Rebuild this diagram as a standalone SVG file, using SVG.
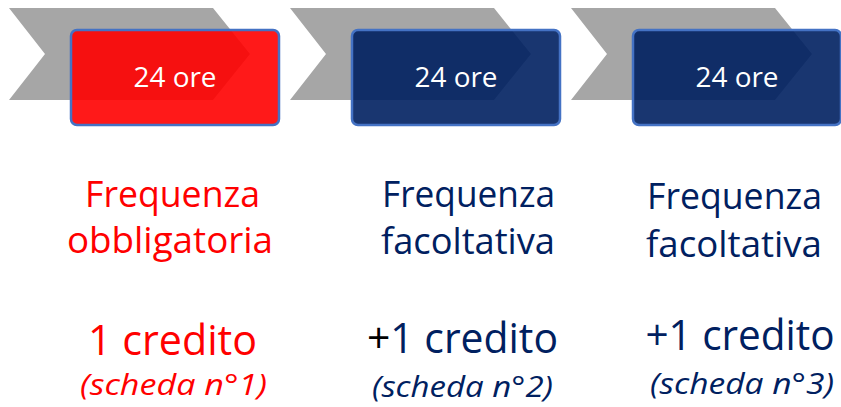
<svg xmlns="http://www.w3.org/2000/svg" width="841" height="407" viewBox="0 0 841 407">
<style>
.chev{fill:#A6A6A6}
.box{stroke:#4472C4;stroke-width:2.5;fill-opacity:0.9}
.t{font-family:"Open Sans","Noto Sans",sans-serif;text-anchor:middle}
.hrs{fill:#FFFFFF;font-size:28px}
.big{font-size:37px}
.cr{font-size:42px}
.it{font-size:30px;font-style:italic}
.red{fill:#FF0000}
.navy{fill:#002060}
</style>
<rect width="841" height="407" fill="#FFFFFF"/>
<g id="step1">
<polygon class="chev" points="9,8 213,8 250,54 213,100 9,100 45,54"/>
<rect class="box" x="71" y="30" width="208" height="95" rx="6" fill="#FF0000"/>
<text class="t hrs" x="175" y="87" textLength="83" lengthAdjust="spacingAndGlyphs">24 ore</text>
</g>
<g id="step2">
<polygon class="chev" points="290,8 494,8 531,54 494,100 290,100 326,54"/>
<rect class="box" x="352" y="30" width="208" height="95" rx="6" fill="#002060"/>
<text class="t hrs" x="456" y="87" textLength="83" lengthAdjust="spacingAndGlyphs">24 ore</text>
</g>
<g id="step3">
<polygon class="chev" points="571,8 775,8 812,54 775,100 571,100 607,54"/>
<rect class="box" x="633" y="30" width="208" height="95" rx="6" fill="#002060"/>
<text class="t hrs" x="737" y="87" textLength="83" lengthAdjust="spacingAndGlyphs">24 ore</text>
</g>
<g id="col1">
<text class="t big red" x="172.5" y="207" textLength="175" lengthAdjust="spacingAndGlyphs">Frequenza</text>
<text class="t big red" x="170" y="253" textLength="206" lengthAdjust="spacingAndGlyphs">obbligatoria</text>
<text class="t cr red" x="172.5" y="355" textLength="169" lengthAdjust="spacingAndGlyphs">1 credito</text>
<text class="t it red" x="173.5" y="395" textLength="187" lengthAdjust="spacingAndGlyphs">(scheda n°1)</text>
</g>
<g id="col2">
<text class="t big navy" x="468.5" y="207" textLength="173" lengthAdjust="spacingAndGlyphs">Frequenza</text>
<text class="t big navy" x="468" y="254" textLength="174" lengthAdjust="spacingAndGlyphs">facoltativa</text>
<text class="t cr navy" x="462.5" y="353" textLength="191" lengthAdjust="spacingAndGlyphs"><tspan fill="#000000">+</tspan>1 credito</text>
<text class="t it navy" x="462.5" y="397" textLength="181" lengthAdjust="spacingAndGlyphs">(scheda n°2)</text>
</g>
<g id="col3">
<text class="t big navy" x="734.5" y="209" textLength="175" lengthAdjust="spacingAndGlyphs">Frequenza</text>
<text class="t big navy" x="734" y="257" textLength="176" lengthAdjust="spacingAndGlyphs">facoltativa</text>
<text class="t cr navy" x="740" y="350" textLength="189" lengthAdjust="spacingAndGlyphs">+1 credito</text>
<text class="t it navy" x="742" y="394" textLength="184" lengthAdjust="spacingAndGlyphs">(scheda n°3)</text>
</g>
<g id="connectors"></g>
</svg>
